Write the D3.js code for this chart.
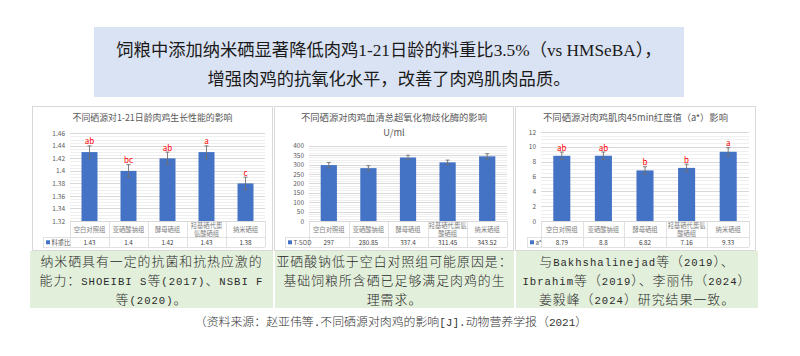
<!DOCTYPE html>
<html>
<head>
<meta charset="utf-8">
<script src="https://cdn.jsdelivr.net/npm/d3@7"></script>
<style>
  body { margin: 0; background: #fff; }
  svg { display: block; }
</style>
</head>
<body>
<div id="chart"></div>
<script>
// ---- data ----
const groups = ["空白对照组", "亚硒酸钠组", "酵母硒组", "羟基硒代蛋氨酸硒组", "纳米硒组"];

const fcr = [1.43, 1.4, 1.42, 1.43, 1.38];
const fcrErr = [0.01, 0.01, 0.01, 0.01, 0.01];
const fcrSig = ["ab", "bc", "ab", "a", "c"];

const sod = [297, 280.85, 337.4, 311.45, 343.52];
const sodErr = [14, 13, 12, 12, 14];

const redness = [8.79, 8.8, 6.82, 7.16, 9.33];
const rednessErr = [0.5, 0.5, 0.5, 0.5, 0.55];
const rednessSig = ["ab", "ab", "b", "b", "a"];

const headline = [
  "饲粮中添加纳米硒显著降低肉鸡1-21日龄的料重比3.5%（vs HMSeBA），",
  "增强肉鸡的抗氧化水平，改善了肉鸡肌肉品质。"
];
const notes = [
  ["纳米硒具有一定的抗菌和抗热应激的", "能力：SHOEIBI S等(2017)、NSBI F", "等(2020)。"],
  ["亚硒酸钠低于空白对照组可能原因是：", "基础饲粮所含硒已足够满足肉鸡的生", "理需求。"],
  ["与Bakhshalinejad等（2019）、", "Ibrahim等（2019）、李丽伟（2024）", "姜毅峰（2024）研究结果一致。"]
];
const source = "（资料来源：赵亚伟等.不同硒源对肉鸡的影响[J].动物营养学报（2021）";

const W = 800, H = 356;
const CJK = "'Noto Sans CJK SC', 'Noto Sans', sans-serif";

const svg = d3.select("#chart").append("svg")
  .attr("width", W).attr("height", H)
  .attr("viewBox", "0 0 " + W + " " + H);

// ---- headline box ----
svg.append("rect")
  .attr("x", 94).attr("y", 27).attr("width", 590).attr("height", 70)
  .attr("fill", "#dae3f3");

svg.selectAll("text.head")
  .data(headline)
  .enter()
  .append("text")
    .attr("class", "head")
    .attr("x", 389)
    .attr("y", (d, i) => 50 + i * 29)
    .attr("text-anchor", "middle")
    .attr("dominant-baseline", "central")
    .attr("font-family", "'Liberation Serif', " + CJK)
    .attr("font-size", 17.3)
    .attr("fill", "#1a1a1a")
    .text(d => d);

// ---- chart panels ----
const panels = [
  { box: [32, 273], left: 70, right: 265, top: 133.3, legendLeft: 43, labelRight: 65,
    domain: [1.32, 1.46], step: 0.02, values: fcr, err: fcrErr, sig: fcrSig,
    title: ["不同硒源对1-21日龄肉鸡生长性能的影响"], titleSize: 8.9, legend: "料重比", wrap: 5 },
  { box: [274, 514], left: 309, right: 507, top: 145.7, legendLeft: 285, labelRight: 304,
    domain: [0, 400], step: 50, values: sod, err: sodErr, sig: null,
    title: ["不同硒源对肉鸡血清总超氧化物歧化酶的影响", "U/ml"], titleSize: 9.3, legend: "T-SOD", wrap: 6 },
  { box: [515, 756], left: 541, right: 749, top: 132, legendLeft: 527, labelRight: 536,
    domain: [0, 12], step: 2, values: redness, err: rednessErr, sig: rednessSig,
    title: ["不同硒源对肉鸡肌肉45min红度值（a*）影响"], titleSize: 9.3, legend: "a*", wrap: 6 }
];

const axisY = 221, catBottom = 237, tableBottom = 247;

panels.forEach(drawPanel);

function drawPanel(p) {
  const g = svg.append("g");
  const cx = (p.box[0] + p.box[1]) / 2;

  g.append("rect")
    .attr("x", p.box[0] + 0.5).attr("y", 106.5)
    .attr("width", p.box[1] - p.box[0] - 1).attr("height", 144)
    .attr("fill", "#fff").attr("stroke", "#d9d9d9");

  g.selectAll("text.title")
    .data(p.title)
    .enter()
    .append("text")
      .attr("x", cx)
      .attr("y", (d, i) => 117 + i * 14.5)
      .attr("text-anchor", "middle")
      .attr("dominant-baseline", "central")
      .attr("font-family", CJK)
      .attr("font-size", p.titleSize)
      .attr("fill", "#595959")
      .text(d => d);

  const x = d3.scaleBand().domain(groups).range([p.left, p.right]);
  const y = d3.scaleLinear().domain(p.domain).range([axisY, p.top]);

  const nSteps = Math.round((p.domain[1] - p.domain[0]) / p.step);
  const major = d3.range(nSteps + 1).map(i => p.domain[0] + i * p.step);
  const minor = d3.range(nSteps * 4).filter(i => i % 4 !== 0).map(i => p.domain[0] + i * p.step / 4);

  g.selectAll("line.minor")
    .data(minor)
    .enter()
    .append("line")
      .attr("x1", p.left).attr("x2", p.right)
      .attr("y1", d => Math.round(y(d)) + 0.5).attr("y2", d => Math.round(y(d)) + 0.5)
      .attr("stroke", "#efefef");

  g.selectAll("line.major")
    .data(major)
    .enter()
    .append("line")
      .attr("x1", p.left).attr("x2", p.right)
      .attr("y1", d => Math.round(y(d)) + 0.5).attr("y2", d => Math.round(y(d)) + 0.5)
      .attr("stroke", "#d9d9d9");

  const yAxis = g.append("g")
    .attr("transform", "translate(" + p.labelRight + ",0)")
    .call(d3.axisLeft(y).tickValues(major).tickSize(0).tickPadding(0)
      .tickFormat(d => String(+d.toFixed(2))));
  yAxis.select(".domain").remove();
  yAxis.selectAll("text")
    .attr("font-family", CJK)
    .attr("font-size", 6.5)
    .attr("fill", "#595959");

  const bw = x.bandwidth() * 0.41;
  g.selectAll("rect.bar")
    .data(p.values)
    .enter()
    .append("rect")
      .attr("x", (d, i) => x(groups[i]) + (x.bandwidth() - bw) / 2)
      .attr("y", d => y(d))
      .attr("width", bw)
      .attr("height", d => axisY - y(d))
      .attr("fill", "#4472c4");

  // error bars
  const eb = g.selectAll("g.err")
    .data(p.values)
    .enter()
    .append("g")
      .attr("stroke", "#6f6f6f").attr("stroke-width", 0.9);
  eb.append("line")
    .attr("x1", (d, i) => x(groups[i]) + x.bandwidth() / 2)
    .attr("x2", (d, i) => x(groups[i]) + x.bandwidth() / 2)
    .attr("y1", (d, i) => y(d + p.err[i]))
    .attr("y2", (d, i) => y(d - p.err[i]));
  [1, -1].forEach(s => {
    eb.append("line")
      .attr("x1", (d, i) => x(groups[i]) + x.bandwidth() / 2 - 2)
      .attr("x2", (d, i) => x(groups[i]) + x.bandwidth() / 2 + 2)
      .attr("y1", (d, i) => y(d + s * p.err[i]))
      .attr("y2", (d, i) => y(d + s * p.err[i]));
  });

  if (p.sig) {
    g.selectAll("text.sig")
      .data(p.values)
      .enter()
      .append("text")
        .attr("x", (d, i) => x(groups[i]) + x.bandwidth() / 2)
        .attr("y", (d, i) => y(d + p.err[i]) - 1.5)
        .attr("text-anchor", "middle")
        .attr("font-family", CJK)
        .attr("font-size", 8)
        .attr("fill", "#ff0000")
        .text((d, i) => p.sig[i]);
  }

  // data table
  const t = g.append("g").attr("stroke", "#d9d9d9").attr("stroke-width", 0.8);
  t.append("line").attr("x1", p.left).attr("x2", p.right).attr("y1", axisY + 0.5).attr("y2", axisY + 0.5);
  t.append("line").attr("x1", p.legendLeft).attr("x2", p.right).attr("y1", catBottom + 0.5).attr("y2", catBottom + 0.5);
  t.append("line").attr("x1", p.legendLeft).attr("x2", p.right).attr("y1", tableBottom + 0.5).attr("y2", tableBottom + 0.5);
  t.append("line").attr("x1", p.legendLeft + 0.5).attr("x2", p.legendLeft + 0.5).attr("y1", catBottom).attr("y2", tableBottom);
  t.selectAll("line.col")
    .data(groups.concat(["end"]))
    .enter()
    .append("line")
      .attr("x1", (d, i) => Math.round(p.left + i * x.bandwidth()) + 0.5)
      .attr("x2", (d, i) => Math.round(p.left + i * x.bandwidth()) + 0.5)
      .attr("y1", axisY).attr("y2", tableBottom);

  const cat = g.selectAll("text.cat")
    .data(groups)
    .enter()
    .append("text")
      .attr("text-anchor", "middle")
      .attr("font-family", CJK)
      .attr("font-size", 6.3)
      .attr("fill", "#7f7f7f");
  cat.each(function (d) {
    const lines = d.length > p.wrap ? [d.slice(0, p.wrap), d.slice(p.wrap)] : [d];
    const cxx = x(d) + x.bandwidth() / 2;
    d3.select(this).selectAll("tspan")
      .data(lines)
      .enter()
      .append("tspan")
        .attr("x", cxx)
        .attr("y", (l, i) => (lines.length === 1 ? 229 : 225.5 + i * 7.5))
        .attr("dominant-baseline", "central")
        .text(l => l);
  });

  g.selectAll("text.val")
    .data(p.values)
    .enter()
    .append("text")
      .attr("x", (d, i) => x(groups[i]) + x.bandwidth() / 2)
      .attr("y", 242.3)
      .attr("text-anchor", "middle")
      .attr("dominant-baseline", "central")
      .attr("font-family", CJK)
      .attr("font-size", 6.3)
      .attr("fill", "#404040")
      .text(d => String(d));

  g.append("rect")
    .attr("x", p.legendLeft + 3).attr("y", 240.3).attr("width", 4).attr("height", 4)
    .attr("fill", "#4472c4");
  g.append("text")
    .attr("x", p.legendLeft + 8.5).attr("y", 242.3)
    .attr("dominant-baseline", "central")
    .attr("font-family", CJK)
    .attr("font-size", 6.3)
    .attr("fill", "#595959")
    .text(p.legend);
}

// ---- note cells ----
const cells = [[30, 273], [275, 514], [516, 758]];
cells.forEach((c, k) => {
  svg.append("rect")
    .attr("x", c[0]).attr("y", 251).attr("width", c[1] - c[0]).attr("height", 57)
    .attr("fill", "#e2efda");
  notes[k].forEach((line, i) => {
    const txt = svg.append("text")
      .attr("x", (c[0] + c[1]) / 2)
      .attr("y", 266 + i * 18.9)
      .attr("text-anchor", "middle")
      .attr("font-family", CJK)
      .attr("font-weight", 300)
      .attr("font-size", 12.9)
      .attr("letter-spacing", 1)
      .attr("fill", "#2a2a2a");
    mixed(txt, line, 10.6);
  });
});

// source line
const src = svg.append("text")
  .attr("x", 391).attr("y", 326.3)
  .attr("text-anchor", "middle")
  .attr("font-family", CJK)
  .attr("font-weight", 300)
  .attr("font-size", 11.9)
  .attr("fill", "#333");
mixed(src, source, 11);

// ascii runs in a narrow mono face, the rest in the CJK face
function mixed(sel, str, asciiSize) {
  const runs = str.match(/[\x20-\x7E]+|[^\x20-\x7E]+/g);
  runs.forEach(r => {
    const ts = sel.append("tspan").text(r);
    if (/^[\x20-\x7E]+$/.test(r)) {
      ts.attr("font-family", "'Liberation Mono', monospace").attr("font-size", asciiSize);
    }
  });
}
</script>
</body>
</html>
